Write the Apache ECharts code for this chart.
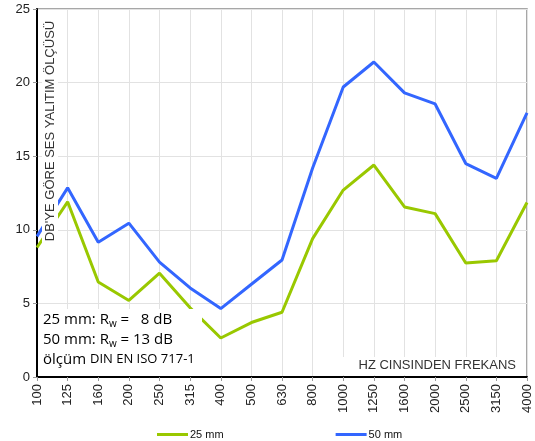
<!DOCTYPE html>
<html>
<head>
<meta charset="utf-8">
<script src="https://cdn.jsdelivr.net/npm/echarts@6/dist/echarts.min.js"></script>
<style>html,body{margin:0;padding:0;background:#fff;}#c{width:535px;height:441px;}</style>
</head>
<body>
<div id="c"></div>
<script>
var categories = ['100','125','160','200','250','315','400','500','630','800','1000','1250','1600','2000','2500','3150','4000'];
var series25 = [8.8, 11.9, 6.45, 5.2, 7.05, 4.7, 2.65, 3.7, 4.4, 9.4, 12.7, 14.4, 11.55, 11.1, 7.75, 7.9, 11.85];
var series50 = [9.55, 12.85, 9.15, 10.45, 7.8, 6.05, 4.65, 6.3, 7.95, 14.2, 19.7, 21.4, 19.3, 18.55, 14.5, 13.5, 17.95];
var seriesNames = ['25 mm', '50 mm'];
var yTitle = "DB'YE GÖRE SES YALITIM ÖLÇÜSÜ";
var xTitle = 'HZ CINSINDEN FREKANS';

var chart = echarts.init(document.getElementById('c'), null, {renderer: 'canvas'});
chart.setOption({
  animation: false,
  backgroundColor: '#fff',
  grid: {left: 37, right: 8, top: 9, bottom: 64, show: true, borderColor: '#8a8a8a', borderWidth: 1.5, backgroundColor: 'transparent'},
  legend: {
    data: seriesNames, left: 152, top: 424, itemGap: 112, itemWidth: 31, itemHeight: 3, icon: 'rect',
    textStyle: {fontFamily: 'Liberation Sans, Arial', fontSize: 11, color: '#111', padding: [0, 0, 0, -3]}
  },
  xAxis: {
    type: 'category', data: categories, boundaryGap: false,
    axisLine: {lineStyle: {color: '#000', width: 2}},
    axisTick: {show: true, interval: 0, length: 4, lineStyle: {color: '#999'}},
    axisLabel: {interval: 0, rotate: 90, fontFamily: 'Liberation Sans, Arial', fontSize: 13, color: '#222', margin: 7},
    splitLine: {show: true, interval: 0, lineStyle: {color: '#e2e2e2', width: 1}}
  },
  yAxis: {
    type: 'value', min: 0, max: 25, interval: 5,
    axisLine: {show: true, lineStyle: {color: '#000', width: 2}},
    axisTick: {show: true, length: 4, lineStyle: {color: '#999'}},
    axisLabel: {fontFamily: 'Liberation Sans, Arial', fontSize: 13, color: '#222', margin: 7},
    splitLine: {show: true, lineStyle: {color: '#e2e2e2', width: 1}}
  },
  series: [
    {name: seriesNames[0], type: 'line', data: series25, symbol: 'none', color: '#99C800', lineStyle: {width: 3, color: '#99C800'}},
    {name: seriesNames[1], type: 'line', data: series50, symbol: 'none', color: '#3366FF', lineStyle: {width: 3, color: '#3366FF'}}
  ],
  graphic: [
    {type: 'rect', z: 100, shape: {x: 39, y: 309, width: 163, height: 67}, style: {fill: '#fff'}},
    {type: 'text', z: 101, left: 43, top: 312, style: {
      text: '{a|25 mm: R}{s|w}{a| =   8 dB}\n{a|50 mm: R}{s|w}{a| = 13 dB}\n{a|ölçüm }{c|DIN EN ISO 717-1}',
      rich: {
        a: {fontFamily: 'Open Sans, DejaVu Sans', fontSize: 15, color: '#3a3a3a', lineHeight: 20, verticalAlign: 'middle'},
        s: {fontFamily: 'Open Sans, DejaVu Sans', fontSize: 10, color: '#3a3a3a', lineHeight: 20, verticalAlign: 'bottom'},
        c: {fontFamily: 'Open Sans, DejaVu Sans', fontSize: 13, color: '#3a3a3a', lineHeight: 20, verticalAlign: 'middle'}
      }
    }},
    {type: 'rect', z: 100, shape: {x: 325, y: 357, width: 201, height: 18}, style: {fill: '#fff'}},
    {type: 'text', z: 101, right: 19, top: 359, style: {
      text: xTitle, fontFamily: 'Liberation Sans, Arial', fontSize: 13, fill: '#333'
    }},
    {type: 'rect', z: 100, shape: {x: 42, y: 14, width: 16, height: 234}, style: {fill: '#fff'}},
    {type: 'text', z: 101, x: 50, y: 131, rotation: Math.PI / 2, style: {
      text: yTitle, fontFamily: 'Liberation Sans, Arial', fontSize: 13, fill: '#333', align: 'center', verticalAlign: 'middle'
    }}
  ]
});
</script>
</body>
</html>
